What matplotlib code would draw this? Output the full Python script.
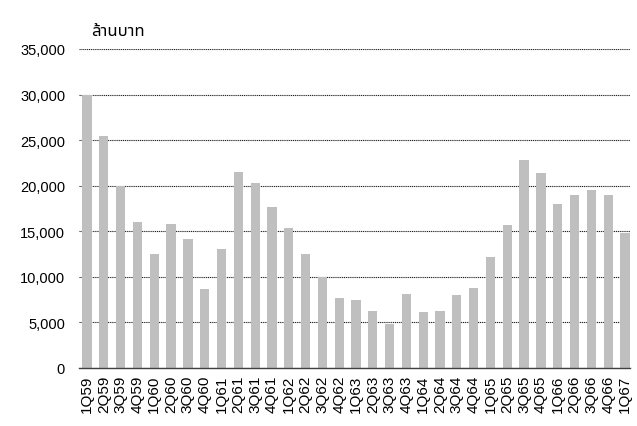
import numpy as np
import matplotlib
matplotlib.use("Agg")
import matplotlib.pyplot as plt

quarters = ["1Q59", "2Q59", "3Q59", "4Q59", "1Q60", "2Q60", "3Q60", "4Q60",
            "1Q61", "2Q61", "3Q61", "4Q61", "1Q62", "2Q62", "3Q62", "4Q62",
            "1Q63", "2Q63", "3Q63", "4Q63", "1Q64", "2Q64", "3Q64", "4Q64",
            "1Q65", "2Q65", "3Q65", "4Q65", "1Q66", "2Q66", "3Q66", "4Q66",
            "1Q67"]
values = [30000, 25500, 20000, 16000, 12500, 15800, 14100, 8650,
          13000, 21500, 20300, 17700, 15300, 12450, 10000, 7700,
          7400, 6250, 4800, 8100, 6100, 6200, 8000, 8750,
          12150, 15650, 22800, 21400, 18000, 19000, 19500, 19000,
          14800]
y_ticks = [0, 5000, 10000, 15000, 20000, 25000, 30000, 35000]
unit_label = "ล้านบาท"

plt.rcParams["font.family"] = ["Liberation Sans", "Noto Sans Thai", "DejaVu Sans"]

fig = plt.figure(figsize=(6.37, 4.27), dpi=100)
ax = fig.add_axes([0.124, 0.136, 0.865, 0.747])

x = np.arange(len(quarters))
ax.bar(x, values, width=0.55, color="#bfbfbf", zorder=2)

ax.set_ylim(0, 35000)
ax.set_xlim(-0.48, len(quarters) - 0.7)
ax.set_yticks(y_ticks)
ax.set_yticklabels([f"{v:,}" for v in y_ticks], fontsize=10.5)
ax.set_xticks(x)
ax.set_xticklabels(quarters, rotation=90, fontsize=11)
ax.tick_params(axis="x", length=0, pad=5)
ax.tick_params(axis="y", length=0, pad=10)

ax.yaxis.grid(True, color="#202020", linestyle=(0, (1, 0.7)), linewidth=0.8, zorder=1)
for s in ["left", "right", "top"]:
    ax.spines[s].set_visible(False)
ax.spines["bottom"].set_color("#404040")
ax.spines["bottom"].set_linewidth(1)

fig.text(0.143, 0.915, unit_label, fontsize=12)

fig.savefig("out.png", dpi=100)
